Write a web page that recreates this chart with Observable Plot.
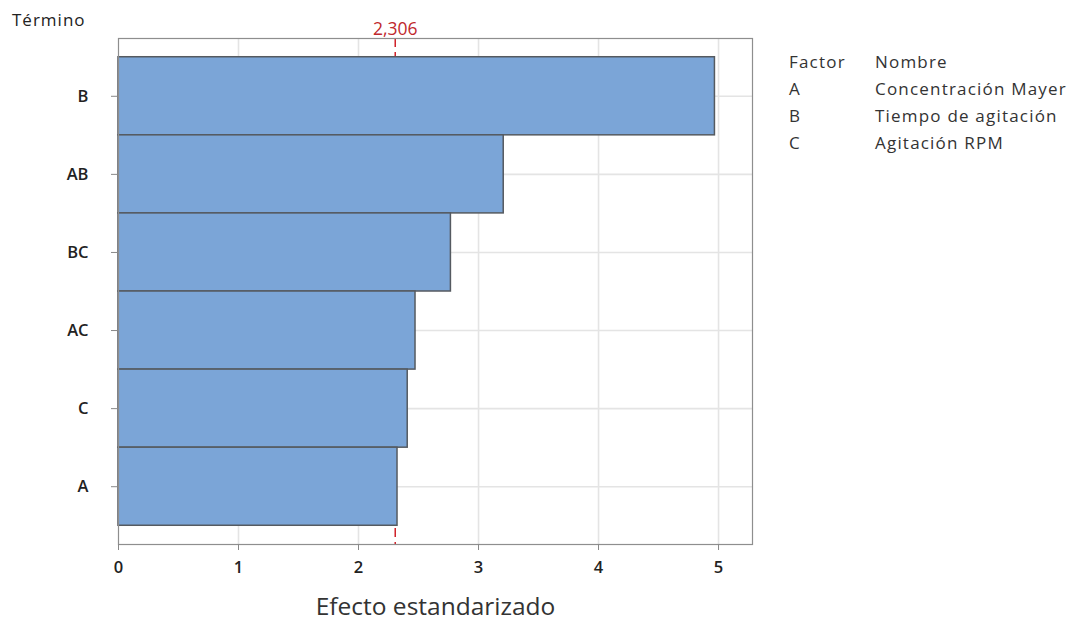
<!DOCTYPE html>
<html><head><meta charset="utf-8">
<script src="https://cdn.jsdelivr.net/npm/d3@7"></script>
<script src="https://cdn.jsdelivr.net/npm/@observablehq/plot@0.6"></script>
<style>
body{margin:0;background:#fff;font-family:"Open Sans","Noto Sans",sans-serif;}
#wrap{position:relative;width:1075px;height:624px;overflow:hidden;}
#wrap svg{position:absolute;left:0;top:0;}
.ann{position:absolute;color:#222;white-space:nowrap;}
#termino{left:12px;top:11px;font-size:17px;line-height:17px;letter-spacing:1px;}
#legend{left:789px;top:48px;font-size:17px;line-height:27px;color:#333;letter-spacing:1.2px;}
#legend .row{display:flex;}
#legend .c1{width:86px;}
</style></head><body><div id="wrap"></div>
<script>
const terms = ["B","AB","BC","AC","C","A"];
const effects = [4.97, 3.21, 2.77, 2.475, 2.41, 2.325];
const critical = 2.306;
const xTicks = [0,1,2,3,4,5];
const factorCodes = ["A","B","C"];
const factorNames = ["Concentración Mayer","Tiempo de agitación","Agitación RPM"];
const legendHeader = ["Factor","Nombre"];
const yTitle = "Término";
const xTitle = "Efecto estandarizado";

const data = terms.map((t,i)=>({term:t, effect:effects[i]}));

const chart = Plot.plot({
  width:1075, height:624,
  marginLeft:118, marginRight:323, marginTop:38, marginBottom:80,
  style:{fontFamily:'"Open Sans","Noto Sans",sans-serif', fontSize:"16px", color:"#222", background:"transparent", overflow:"visible"},
  x:{domain:[0,5.283]},
  y:{domain:terms, paddingInner:0, paddingOuter:0.24, round:false},
  marks:[
    Plot.gridX(xTicks.slice(1), {stroke:"#e4e4e4", strokeOpacity:1, strokeWidth:1.6}),
    Plot.gridY(terms, {stroke:"#e4e4e4", strokeOpacity:1, strokeWidth:1.6}),
    Plot.ruleX([critical], {stroke:"#d0222a", strokeDasharray:"9,5", strokeWidth:1.5}),
    Plot.barX(data, {x:"effect", y:"term", fill:"#7BA5D7", stroke:"#555a60", strokeWidth:1.5}),
    Plot.frame({stroke:"#8e8e8e", strokeWidth:1.2}),
    Plot.axisX(xTicks, {tickSize:6, tickPadding:11, tickFormat:d=>String(d), label:null, stroke:"#888", fontSize:16.5, fontWeight:600, fill:"#222"}),
    Plot.axisX({ticks:[], label:xTitle, labelAnchor:"center", labelArrow:"none", labelOffset:70, fontSize:24.5, fill:"#333"}),
    Plot.axisY(terms, {tickSize:7, tickPadding:23, label:null, stroke:"#888", fontSize:16.5, fontWeight:600, fill:"#222"}),
    Plot.text([critical], {x:d=>d, frameAnchor:"top", lineAnchor:"bottom", dy:-4, text:d=>d.toFixed(3).replace(".",","), fill:"#c0282d", fontSize:17.5, letterSpacing:"0.8px"})
  ]
});
const wrap = document.getElementById("wrap");
wrap.appendChild(chart);

const t = document.createElement("div");
t.className="ann"; t.id="termino"; t.textContent=yTitle;
wrap.appendChild(t);

const lg = document.createElement("div");
lg.className="ann"; lg.id="legend";
const rows = [legendHeader].concat(factorCodes.map((c,i)=>[c,factorNames[i]]));
rows.forEach(r=>{
  const row=document.createElement("div"); row.className="row";
  const a=document.createElement("span"); a.className="c1"; a.textContent=r[0];
  const b=document.createElement("span"); b.textContent=r[1];
  row.appendChild(a); row.appendChild(b); lg.appendChild(row);
});
wrap.appendChild(lg);
</script></body></html>
